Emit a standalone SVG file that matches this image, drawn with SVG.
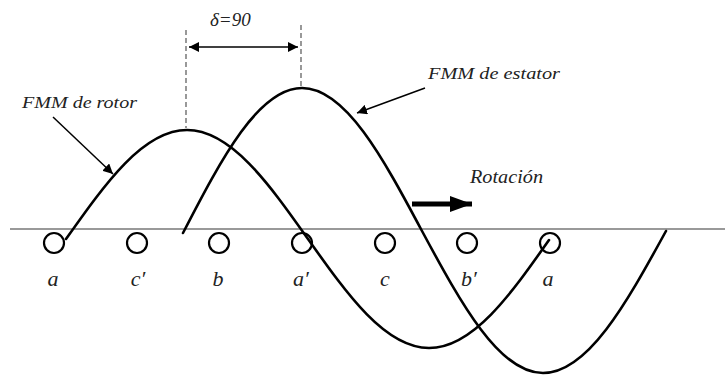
<svg xmlns="http://www.w3.org/2000/svg" width="725" height="375" viewBox="0 0 725 375">
<style>
  text { font-family: "Liberation Serif", "Times New Roman", "DejaVu Serif", serif; font-style: italic; fill: #222; }
  .lbl { font-size: 22px; text-anchor: middle; }
  .curve { fill: none; stroke: #000; stroke-width: 2.6; stroke-linecap: round; }
  .slot { fill: none; stroke: #000; stroke-width: 2.2; }
  .dash { stroke: #555; stroke-width: 1.2; stroke-dasharray: 5 3; }
  .ptr { stroke: #000; stroke-width: 1.5; fill: none; }
</style>
<defs>
  <marker id="ah" viewBox="0 0 10 10" refX="10" refY="5" markerWidth="10" markerHeight="10" markerUnits="userSpaceOnUse" orient="auto-start-reverse">
    <path d="M0,0 L10,5 L0,10 z" fill="#000"/>
  </marker>
  <marker id="ah2" viewBox="0 0 22 16" refX="22" refY="8" markerWidth="22" markerHeight="16" markerUnits="userSpaceOnUse" orient="auto">
    <path d="M0,0 L22,8 L0,16 z" fill="#000"/>
  </marker>
</defs>
<rect width="725" height="375" fill="#fff"/>

<g id="axis">
  <line x1="10" y1="229" x2="725" y2="229" stroke="#777" stroke-width="1.6"/>
</g>

<g id="slots">
  <circle class="slot" cx="54" cy="243" r="10"/>
  <circle class="slot" cx="137" cy="243" r="10"/>
  <circle class="slot" cx="219" cy="243" r="10"/>
  <circle class="slot" cx="302" cy="243" r="10"/>
  <circle class="slot" cx="385" cy="243" r="10"/>
  <circle class="slot" cx="467" cy="243" r="10"/>
  <circle class="slot" cx="550" cy="243" r="10"/>
</g>

<g id="slot-labels">
  <text class="lbl" x="53" y="286">a</text>
  <text class="lbl" x="138" y="286">c′</text>
  <text class="lbl" x="218" y="286">b</text>
  <text class="lbl" x="301" y="286">a′</text>
  <text class="lbl" x="385" y="286">c</text>
  <text class="lbl" x="469" y="286">b′</text>
  <text class="lbl" x="548" y="286">a</text>
</g>

<g id="rotor-wave">
  <path class="curve" d="M66,239 C105.5,183.2 143.2,130 187,130 C230.8,130 268.5,183.2 308,239 C347.5,294.8 385.2,348 429,348 C472.8,348 510.5,294.8 549,240"/>
</g>

<g id="stator-wave">
  <path class="curve" d="M183,233 C221.8,157.7 258.9,88 302,88 C345.4,88 382.9,157.7 422,231 C461.5,304.3 499.2,373 543,373 C587.5,373 625.9,304.3 666,231"/>
</g>

<g id="delta">
  <line class="dash" x1="186" y1="30" x2="186" y2="128"/>
  <line class="dash" x1="301" y1="25" x2="301" y2="86"/>
  <line x1="189" y1="47" x2="298" y2="47" stroke="#000" stroke-width="1.3" marker-start="url(#ah)" marker-end="url(#ah)"/>
  <text x="210" y="26" font-size="19">δ=90</text>
</g>

<g id="connectors">
  <line class="ptr" x1="53" y1="117" x2="113" y2="174" marker-end="url(#ah)"/>
  <line class="ptr" x1="425" y1="88" x2="357" y2="113" marker-end="url(#ah)"/>
  <line x1="412" y1="204" x2="472" y2="204" stroke="#000" stroke-width="5" marker-end="url(#ah2)"/>
</g>

<g id="labels">
  <text x="22" y="108" font-size="17" textLength="115" lengthAdjust="spacingAndGlyphs">FMM de rotor</text>
  <text x="428" y="79" font-size="17" textLength="132" lengthAdjust="spacingAndGlyphs">FMM de estator</text>
  <text x="470" y="183" font-size="19" textLength="73" lengthAdjust="spacingAndGlyphs">Rotación</text>
</g>
</svg>
